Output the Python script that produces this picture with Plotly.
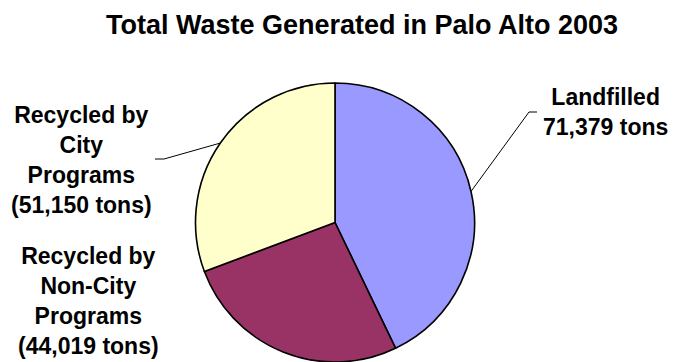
import math
import plotly.graph_objects as go

# ---- data ----
categories = ["Landfilled", "Recycled by Non-City Programs", "Recycled by City Programs"]
tons = [71379, 44019, 51150]
colors = ["#9999FF", "#993366", "#FFFFCC"]
title_text = "Total Waste Generated in Palo Alto 2003"

W, H = 673, 362
FONT = "Liberation Sans, Arial, sans-serif"

def px(x):
    return x / W

def py(y):
    return 1 - y / H

# pie geometry (pixels)
cx, cy, r = 335, 222.5, 139.5

fig = go.Figure()
fig.add_trace(go.Pie(
    labels=categories,
    values=tons,
    sort=False,
    direction="clockwise",
    rotation=0,
    marker=dict(colors=colors, line=dict(color="black", width=1.6)),
    textinfo="none",
    hoverinfo="label+value+percent",
    domain=dict(x=[px(cx - r), px(cx + r)], y=[0, py(cy - r)]),
    showlegend=False,
))

# mid angles of slices (clockwise from 12 o'clock)
total = sum(tons)
mids = []
acc = 0
for v in tons:
    mids.append((acc + v / 2) / total * 2 * math.pi)
    acc += v

def edge(i):
    a = mids[i]
    return cx + r * math.sin(a), cy - r * math.cos(a)

labels_text = [
    f"<b>Landfilled<br>{tons[0]:,} tons</b>",
    f"<b>Recycled by<br>Non-City<br>Programs<br>({tons[1]:,} tons)</b>",
    f"<b>Recycled by<br>City<br>Programs<br>({tons[2]:,} tons)</b>",
]
label_pos = [(605, 112), (88, 301), (81, 160)]

for t, (x, y) in zip(labels_text, label_pos):
    fig.add_annotation(x=px(x), y=py(y), xref="paper", yref="paper",
                       text=t, showarrow=False, xanchor="center", yanchor="middle",
                       align="center", font=dict(family=FONT, size=23, color="black"))

# leader lines
ex, ey = edge(0)
fig.add_shape(type="path", xref="paper", yref="paper",
              path=f"M {px(ex)},{py(ey)} L {px(529)},{py(112)} L {px(537)},{py(112)}",
              line=dict(color="black", width=1))
ex, ey = edge(2)
fig.add_shape(type="path", xref="paper", yref="paper",
              path=f"M {px(ex)},{py(ey)} L {px(164)},{py(159)} L {px(155)},{py(159)}",
              line=dict(color="black", width=1))

# title
fig.add_annotation(x=px(362), y=py(25), xref="paper", yref="paper",
                   text=f"<b>{title_text}</b>", showarrow=False,
                   xanchor="center", yanchor="middle",
                   font=dict(family=FONT, size=27, color="black"))

fig.update_layout(
    width=W, height=H,
    margin=dict(l=0, r=0, t=0, b=0),
    paper_bgcolor="white", plot_bgcolor="white",
)

fig.write_html("out.html")
